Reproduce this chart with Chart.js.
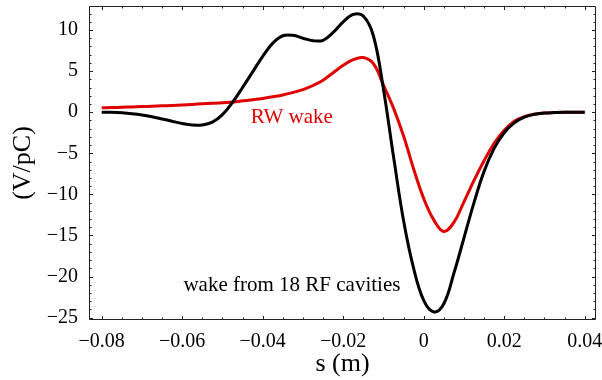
<!DOCTYPE html>
<html>
<head>
<meta charset="utf-8">
<script src="https://cdn.jsdelivr.net/npm/chart.js@4/dist/chart.umd.min.js"></script>
<style>
  html, body { margin: 0; padding: 0; background: #fff; }
  #wrap { width: 602px; height: 380px; }
</style>
</head>
<body>
<div id="wrap"><canvas id="wakeChart" width="602" height="380"></canvas></div>
<script>
// s positions (m)
const sValues = [
  -0.08, -0.0775, -0.075, -0.0725, -0.07, -0.0675, -0.065, -0.0625, -0.06, -0.0575,
  -0.055, -0.0525, -0.05, -0.0475, -0.045, -0.0425, -0.04, -0.0375, -0.035, -0.0325,
  -0.03, -0.0275, -0.025, -0.0225, -0.02, -0.0175, -0.015, -0.0125, -0.01, -0.0075,
  -0.005, -0.0025, 0, 0.0025, 0.005, 0.0075, 0.01, 0.0125, 0.015, 0.0175,
  0.02, 0.0225, 0.025, 0.0275, 0.03, 0.0325, 0.035, 0.0375, 0.04
];

// wake from 18 RF cavities (V/pC)
const rfWake = [
  0.0, -0.02, -0.08, -0.18, -0.33, -0.55, -0.82, -1.1, -1.38, -1.56,
  -1.55, -1.2, -0.3, 1.2, 3.0, 4.9, 6.8, 8.4, 9.3, 9.35,
  9.0, 8.7, 8.75, 9.7, 11.0, 11.9, 11.7, 9.3, 2.8, -5.4,
  -13.2, -19.0, -22.9, -24.3, -23.3, -19.6, -15.3, -11.0, -7.2, -4.4,
  -2.5, -1.3, -0.6, -0.25, -0.1, -0.04, 0, 0, 0
];

// resistive wall wake (V/pC)
const rwWake = [
  0.53, 0.56, 0.6, 0.64, 0.68, 0.72, 0.77, 0.82, 0.88, 0.95,
  1.02, 1.08, 1.15, 1.25, 1.38, 1.52, 1.68, 1.88, 2.1, 2.4,
  2.75, 3.25, 3.9, 4.8, 5.7, 6.4, 6.65, 5.9, 3.3, 0.5,
  -2.9, -6.9, -10.5, -13.1, -14.5, -13.4, -10.9, -8.3, -5.9, -3.8,
  -2.2, -1.1, -0.55, -0.25, -0.1, -0.04, 0, 0, 0
];

const xTickValues = [-0.08, -0.06, -0.04, -0.02, 0, 0.02, 0.04];
const yTickValues = [-25, -20, -15, -10, -5, 0, 5, 10];

const labels = [
  { text: 'RW wake', s: -0.043, v: -1.35, color: '#e00000' },
  { text: 'wake from 18 RF cavities', s: -0.0597, v: -21.7, color: '#000' }
];

const serif = '"Liberation Serif", "DejaVu Serif", serif';

function fmt(v) {
  if (Math.abs(v) < 1e-9) return '0';
  const str = Number.isInteger(v) ? String(Math.abs(v)) : Math.abs(v).toFixed(2);
  return (v < 0 ? '\u2212' : '') + str;
}

function toPoints(ys) {
  return sValues.map((s, i) => ({ x: s, y: ys[i] }));
}

// chart.js pads the area for edge labels, we want a fixed frame
function noPad(s) {
  s.paddingTop = 0;
  s.paddingBottom = 0;
  s.paddingLeft = 0;
  s.paddingRight = 0;
}

// frame with inward ticks on all four sides, Mathematica style
const framePlugin = {
  id: 'frame',
  afterDatasetsDraw(chart) {
    const { ctx, chartArea: a, scales } = chart;
    const xs = scales.x, ys = scales.y;
    ctx.save();
    ctx.strokeStyle = '#222';
    ctx.lineWidth = 1;
    ctx.beginPath();
    ctx.rect(a.left + 0.5, a.top + 0.5, a.right - a.left - 1, a.bottom - a.top - 1);
    ctx.stroke();

    ctx.beginPath();
    for (let k = -16; k <= 8; k++) {
      const v = k * 0.005;
      const px = Math.round(xs.getPixelForValue(v)) + 0.5;
      const len = (k % 4 === 0) ? 4 : 2.5;
      ctx.moveTo(px, a.bottom); ctx.lineTo(px, a.bottom - len);
      ctx.moveTo(px, a.top); ctx.lineTo(px, a.top + len);
    }
    for (let v = -25; v <= 12; v++) {
      const py = Math.round(ys.getPixelForValue(v)) + 0.5;
      const len = (v % 5 === 0) ? 4 : 2.5;
      ctx.moveTo(a.left, py); ctx.lineTo(a.left + len, py);
      ctx.moveTo(a.right, py); ctx.lineTo(a.right - len, py);
    }
    ctx.stroke();

    ctx.font = '21px ' + serif;
    ctx.textBaseline = 'alphabetic';
    ctx.textAlign = 'left';
    labels.forEach(l => {
      ctx.fillStyle = l.color;
      ctx.fillText(l.text, xs.getPixelForValue(l.s), ys.getPixelForValue(l.v));
    });
    ctx.restore();
  }
};

new Chart(document.getElementById('wakeChart'), {
  type: 'line',
  data: {
    datasets: [
      {
        label: 'wake from 18 RF cavities',
        data: toPoints(rfWake),
        borderColor: '#000',
        borderWidth: 3,
        pointRadius: 0,
        tension: 0.4,
        fill: false
      },
      {
        label: 'RW wake',
        data: toPoints(rwWake),
        borderColor: '#e00000',
        borderWidth: 3,
        pointRadius: 0,
        tension: 0.4,
        fill: false
      }
    ]
  },
  options: {
    responsive: false,
    animation: false,
    layout: { padding: { left: 0, right: 6, top: 6, bottom: 0 } },
    plugins: { legend: { display: false }, tooltip: { enabled: false } },
    scales: {
      x: {
        type: 'linear',
        min: -0.08316,
        max: 0.04281,
        grid: { display: false, drawTicks: false },
        border: { display: false },
        afterBuildTicks: s => { s.ticks = xTickValues.map(v => ({ value: v })); },
        afterFit: s => { s.height = 60; noPad(s); },
        ticks: {
          color: '#000',
          padding: 10,
          maxRotation: 0,
          autoSkip: false,
          font: { family: serif, size: 20 },
          callback: v => fmt(v)
        },
        title: {
          display: true,
          text: 's (m)',
          color: '#000',
          font: { family: serif, size: 26, lineHeight: 1.2 },
          padding: { top: 0, bottom: 0 }
        }
      },
      y: {
        min: -25.28,
        max: 12.92,
        grid: { display: false, drawTicks: false },
        border: { display: false },
        afterBuildTicks: s => { s.ticks = yTickValues.map(v => ({ value: v })); },
        afterFit: s => { s.width = 89; noPad(s); },
        ticks: {
          color: '#000',
          padding: 11,
          autoSkip: false,
          font: { family: serif, size: 20 },
          callback: v => fmt(v)
        },
        title: {
          display: true,
          text: '(V/pC)',
          color: '#000',
          font: { family: serif, size: 26, lineHeight: 1.2 },
          padding: { top: 8, bottom: 0 }
        }
      }
    }
  },
  plugins: [framePlugin]
});
</script>
</body>
</html>
